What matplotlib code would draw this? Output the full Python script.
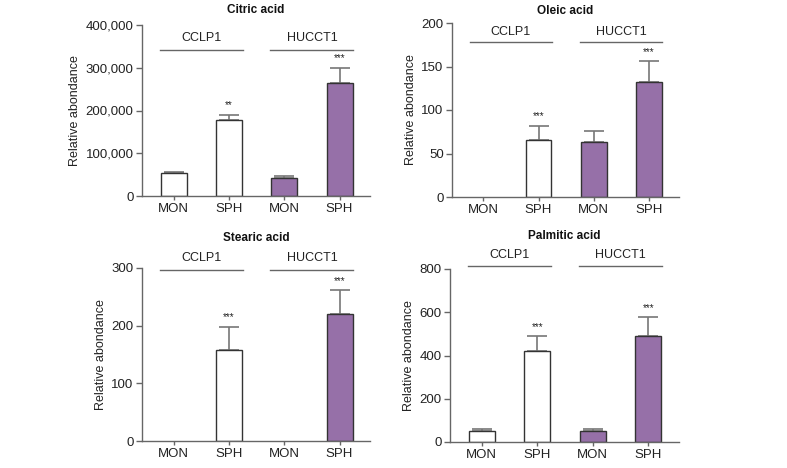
import numpy as np
import matplotlib
matplotlib.use('Agg')
import matplotlib.pyplot as plt
from matplotlib.ticker import FuncFormatter

plt.rcParams['font.family'] = ['Liberation Sans', 'DejaVu Sans']
plt.rcParams['font.size'] = 8

conditions = ['MON', 'SPH', 'MON', 'SPH']
groups = ['CCLP1', 'HUCCT1']

citric_mean = [53000, 178000, 42000, 265000]
citric_err = [2000, 12000, 5000, 35000]
citric_stars = ['', '**', '', '***']

oleic_mean = [0, 66, 63, 132]
oleic_err = [0, 16, 13, 24]
oleic_stars = ['', '***', '', '***']

stearic_mean = [0, 157, 0, 220]
stearic_err = [0, 41, 0, 42]
stearic_stars = ['', '***', '', '***']

palmitic_mean = [52, 420, 52, 490]
palmitic_err = [8, 70, 8, 87]
palmitic_stars = ['', '***', '', '***']

PURPLE = '#9670a8'
EDGE = '#333333'
GREY = '#777777'

fig = plt.figure(figsize=(7.87, 4.68), dpi=100)
W, H = 787, 468


def add_ax(x0, y0, x1, y1):
    return fig.add_axes([x0 / W, 1 - y1 / H, (x1 - x0) / W, (y1 - y0) / H])


def panel(ax, title, mean, err, stars, ymax, step, line_y, text_y, title_y, comma=False):
    x = np.arange(len(conditions))
    colors = ['white', 'white', PURPLE, PURPLE]
    for i in range(len(x)):
        if mean[i] <= 0:
            continue
        ax.bar(x[i], mean[i], 0.47, color=colors[i], edgecolor=EDGE, linewidth=1.0, zorder=2)
        ax.errorbar(x[i], mean[i], yerr=[[0], [err[i]]], ecolor=GREY, elinewidth=1.2,
                    capsize=7, capthick=1.2, fmt='none', zorder=1)
        if stars[i]:
            ax.text(x[i], mean[i] + err[i] + ymax * 0.025, stars[i], ha='center',
                    va='bottom', fontsize=7, color='#222222')
    ax.set_xlim(-0.57, 3.55)
    ax.set_ylim(0, ymax)
    ax.set_yticks(np.arange(0, ymax + 1, step))
    if comma:
        ax.yaxis.set_major_formatter(FuncFormatter(lambda v, p: f'{int(v):,}'))
    ax.set_xticks(x, conditions)
    for s in ['top', 'right']:
        ax.spines[s].set_visible(False)
    for s in ['left', 'bottom']:
        ax.spines[s].set_color('#666666')
        ax.spines[s].set_linewidth(1.0)
    ax.tick_params(axis='both', colors='#666666', labelcolor='#222222', length=4,
                   width=1.0, labelsize=9.5, pad=2)
    ax.tick_params(axis='x', length=3, pad=2)
    ax.set_ylabel('Relative abondance', fontsize=9, color='#222222', labelpad=3)
    ax.text(0.5, title_y, title, transform=ax.transAxes, ha='center', va='center',
            fontsize=8.5, fontweight='bold', color='#111111')
    for g, (a, b) in zip(groups, [(-0.25, 1.25), (1.75, 3.25)]):
        ax.plot([a, b], [line_y, line_y], color='#666666', lw=1.0,
                transform=ax.get_xaxis_transform(), clip_on=False)
        ax.text((a + b) / 2, text_y, g, transform=ax.get_xaxis_transform(),
                ha='center', va='center', fontsize=9, color='#222222')


ax1 = add_ax(142, 25, 370, 196)
panel(ax1, 'Citric acid', citric_mean, citric_err, citric_stars, 400000, 100000,
      0.854, 0.925, 1.09, comma=True)
ax2 = add_ax(452, 23, 679, 197)
panel(ax2, 'Oleic acid', oleic_mean, oleic_err, oleic_stars, 200, 50,
      0.89, 0.95, 1.07)
ax3 = add_ax(142, 268, 370, 441)
panel(ax3, 'Stearic acid', stearic_mean, stearic_err, stearic_stars, 300, 100,
      0.99, 1.055, 1.175)
ax4 = add_ax(450, 269, 679, 442)
panel(ax4, 'Palmitic acid', palmitic_mean, palmitic_err, palmitic_stars, 800, 200,
      1.017, 1.08, 1.19)

fig.savefig('out.png', dpi=100, facecolor='white')
